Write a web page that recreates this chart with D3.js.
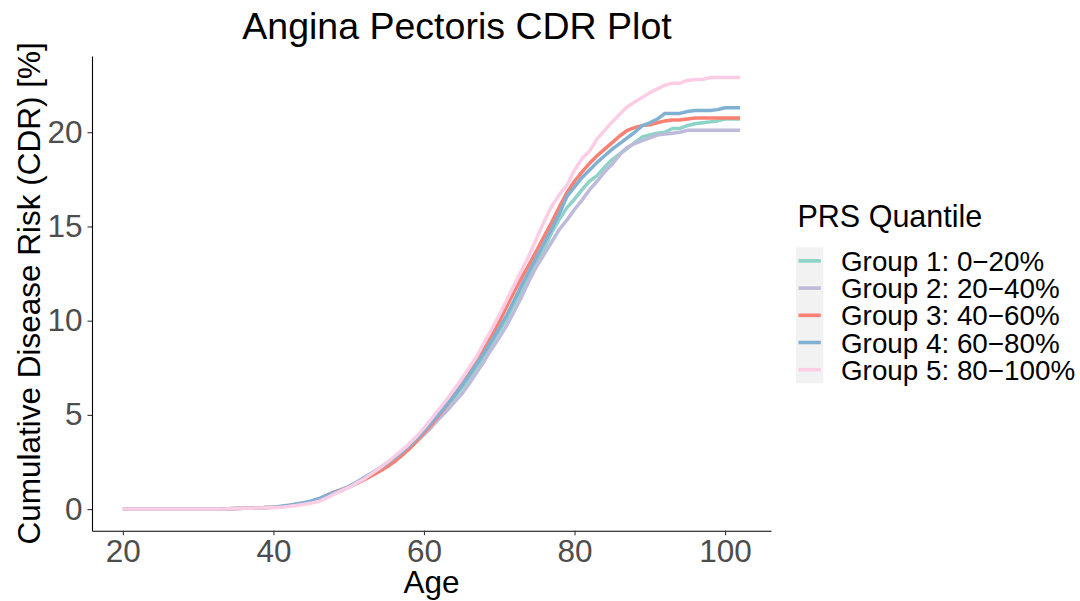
<!DOCTYPE html>
<html>
<head>
<meta charset="utf-8">
<script src="https://cdn.jsdelivr.net/npm/d3@7"></script>
<style>
  html, body { margin: 0; padding: 0; background: #fff; }
  svg { display: block; font-family: "Liberation Sans", Arial, Helvetica, sans-serif; }
</style>
</head>
<body>
<svg id="chart" width="1080" height="601"></svg>
<script>
const ages = [20,21,22,23,24,25,26,27,28,29,30,31,32,33,34,35,36,37,38,39,40,41,42,43,44,45,
  46,47,48,49,50,51,52,53,54,55,56,57,58,59,60,61,62,63,64,65,66,67,68,69,70,71,72,73,74,75,
  76,77,78,79,80,81,82,83,84,85,86,87,88,89,90,91,92,93,94,95,96,97,98,99,100,101,102];

const group1 = [0,0,0,0,0,0,0,0,0,0,0,0,0,0, 0.02,0.03,0.04,0.05,0.06,0.08,0.1,0.13,0.18,0.24,0.3,0.38,
  0.5,0.68,0.85,1.0,1.17,1.37,1.6,1.85,2.1,2.38, 2.68,3.0,3.35,3.72,4.1,4.5,4.95,5.4,5.9,6.4,
  6.95,7.55,8.15,8.8,9.45,10.1,10.9,11.65,12.4,13.1, 13.85,14.7,15.4,16.0,16.45,16.95,17.4,17.7,18.15,18.55,
  18.85,19.15,19.45,19.75,19.85,19.95,20.0,20.2,20.2,20.35, 20.45,20.5,20.55,20.6,20.7,20.7,20.7];

const group2 = [0,0,0,0,0,0,0,0,0,0,0,0,0,0, 0.02,0.03,0.04,0.05,0.06,0.08,0.1,0.13,0.18,0.24,0.3,0.38,
  0.5,0.66,0.83,0.98,1.15,1.35,1.58,1.82,2.07,2.33, 2.6,2.9,3.22,3.57,3.95,4.35,4.8,5.2,5.65,6.1,
  6.65,7.25,7.85,8.5,9.1,9.75,10.5,11.3,12.15,12.9, 13.55,14.2,14.85,15.35,15.9,16.4,16.95,17.4,17.9,18.3,
  18.8,19.2,19.4,19.55,19.7,19.85,19.9,19.95,20.0,20.1, 20.1,20.1,20.1,20.1,20.1,20.1,20.1];

const group3 = [0,0,0,0,0,0,0,0,0,0,0,0,0,0, 0.02,0.03,0.04,0.05,0.06,0.08,0.1,0.13,0.18,0.24,0.3,0.38,
  0.52,0.72,0.9,1.03,1.18,1.36,1.55,1.76,1.98,2.22, 2.5,2.82,3.18,3.6,4.05,4.5,4.98,5.5,6.05,6.6,
  7.2,7.85,8.5,9.2,9.95,10.75,11.55,12.3,13.0,13.75, 14.5,15.25,16.05,16.8,17.4,17.9,18.35,18.75,19.1,19.45,
  19.8,20.1,20.25,20.35,20.4,20.5,20.6,20.65,20.65,20.7, 20.75,20.75,20.75,20.75,20.75,20.75,20.75];

const group4 = [0,0,0,0,0,0,0,0,0,0,0,0,0,0, 0.02,0.03,0.04,0.05,0.06,0.08,0.1,0.15,0.2,0.27,0.34,0.43,
  0.55,0.72,0.88,1.02,1.2,1.42,1.67,1.9,2.15,2.4, 2.7,3.0,3.35,3.75,4.15,4.6,5.05,5.55,6.0,6.55,
  7.1,7.7,8.3,8.95,9.6,10.3,11.1,11.9,12.65,13.4, 14.15,14.9,15.7,16.6,17.1,17.6,18.0,18.4,18.75,19.1,
  19.4,19.7,20.0,20.35,20.5,20.7,21.0,21.0,21.0,21.1, 21.15,21.15,21.15,21.2,21.3,21.3,21.3];

const group5 = [0,0,0,0,0,0,0,0,0,0,0,0,0,0, 0.02,0.03,0.04,0.05,0.06,0.07,0.08,0.1,0.14,0.19,0.25,0.32,
  0.4,0.58,0.78,0.97,1.15,1.37,1.6,1.87,2.15,2.45, 2.77,3.1,3.45,3.85,4.3,4.8,5.3,5.8,6.35,6.9,
  7.5,8.1,8.85,9.55,10.3,11.1,11.9,12.7,13.5,14.4, 15.3,16.1,16.7,17.2,18.0,18.6,19.0,19.65,20.1,20.55,
  20.95,21.35,21.6,21.85,22.1,22.3,22.5,22.6,22.6,22.75, 22.8,22.8,22.9,22.9,22.9,22.9,22.9];

const groupLabels = ["Group 1: 0\u221220%", "Group 2: 20\u221240%", "Group 3: 40\u221260%", "Group 4: 60\u221280%", "Group 5: 80\u2212100%"];
const groupColors = ["#8dd3c7", "#bebada", "#fb8072", "#80b1d3", "#fccde5"];
const xTicks = [20, 40, 60, 80, 100];
const yTicks = [0, 5, 10, 15, 20];

const series = [group1, group2, group3, group4, group5].map((vals, i) => ({
  label: groupLabels[i], color: groupColors[i],
  points: ages.map((a, j) => ({ age: a, v: vals[j] }))
}));

const svg = d3.select("#chart");
const panel = { left: 92, right: 771, top: 56, bottom: 530.7 };

const xMin = d3.min(ages), xMax = d3.max(ages);
const xPad = (xMax - xMin) * 0.05;
const allV = [].concat(group1, group2, group3, group4, group5);
const yMin = d3.min(allV), yMax = d3.max(allV);
const yPad = (yMax - yMin) * 0.05;

const x = d3.scaleLinear().domain([xMin - xPad, xMax + xPad]).range([panel.left, panel.right]);
const y = d3.scaleLinear().domain([yMin - yPad, yMax + yPad]).range([panel.bottom, panel.top]);

// lines
const line = d3.line().x(d => x(d.age)).y(d => y(d.v));
svg.append("g").selectAll("path").data(series).join("path")
  .attr("d", d => line(d.points))
  .attr("fill", "none")
  .attr("stroke", d => d.color)
  .attr("stroke-width", 3.5)
  .attr("stroke-linejoin", "round");

// axes
const xAxis = svg.append("g").attr("transform", `translate(0,${panel.bottom})`)
  .call(d3.axisBottom(x).tickValues(xTicks).tickSize(4.5).tickSizeOuter(0).tickPadding(4));
const yAxis = svg.append("g").attr("transform", `translate(${panel.left},0)`)
  .call(d3.axisLeft(y).tickValues(yTicks).tickSize(4.5).tickSizeOuter(0).tickPadding(5));
[xAxis, yAxis].forEach(g => {
  g.select(".domain").attr("stroke", "#000").attr("stroke-width", 1.1);
  g.selectAll(".tick line").attr("stroke", "#333").attr("stroke-width", 1.1);
  g.selectAll(".tick text").attr("fill", "#4d4d4d").attr("font-size", 31.5)
    .attr("font-family", "Liberation Sans, Arial, sans-serif");
});

// title
svg.append("text").attr("x", 457).attr("y", 38.5).attr("text-anchor", "middle")
  .attr("font-size", 37.5).attr("fill", "#000").text("Angina Pectoris CDR Plot");

// axis titles
svg.append("text").attr("x", (panel.left + panel.right) / 2).attr("y", 593)
  .attr("text-anchor", "middle").attr("font-size", 31.5).attr("fill", "#000").text("Age");
svg.append("text").attr("transform", `translate(39.5,${(panel.top + panel.bottom) / 2}) rotate(-90)`)
  .attr("text-anchor", "middle").attr("font-size", 31.5).attr("fill", "#000")
  .text("Cumulative Disease Risk (CDR) [%]");

// legend
const lg = svg.append("g");
lg.append("text").attr("x", 797.5).attr("y", 227).attr("font-size", 30.5).attr("fill", "#000").text("PRS Quantile");
const keyTop = 247.3, keyH = 27.2, keyLeft = 796, keyW = 27.3;
lg.append("rect").attr("x", keyLeft).attr("y", keyTop).attr("width", keyW)
  .attr("height", keyH * series.length).attr("fill", "#f2f2f2");
series.forEach((s, i) => {
  const cy = keyTop + keyH * i + keyH / 2;
  lg.append("line").attr("x1", keyLeft + 2.5).attr("x2", keyLeft + keyW - 2.5)
    .attr("y1", cy).attr("y2", cy).attr("stroke", s.color).attr("stroke-width", 3.6);
  lg.append("text").attr("x", 841).attr("y", cy + 10).attr("font-size", 27.8)
    .attr("fill", "#000").text(s.label);
});
</script>
</body>
</html>
